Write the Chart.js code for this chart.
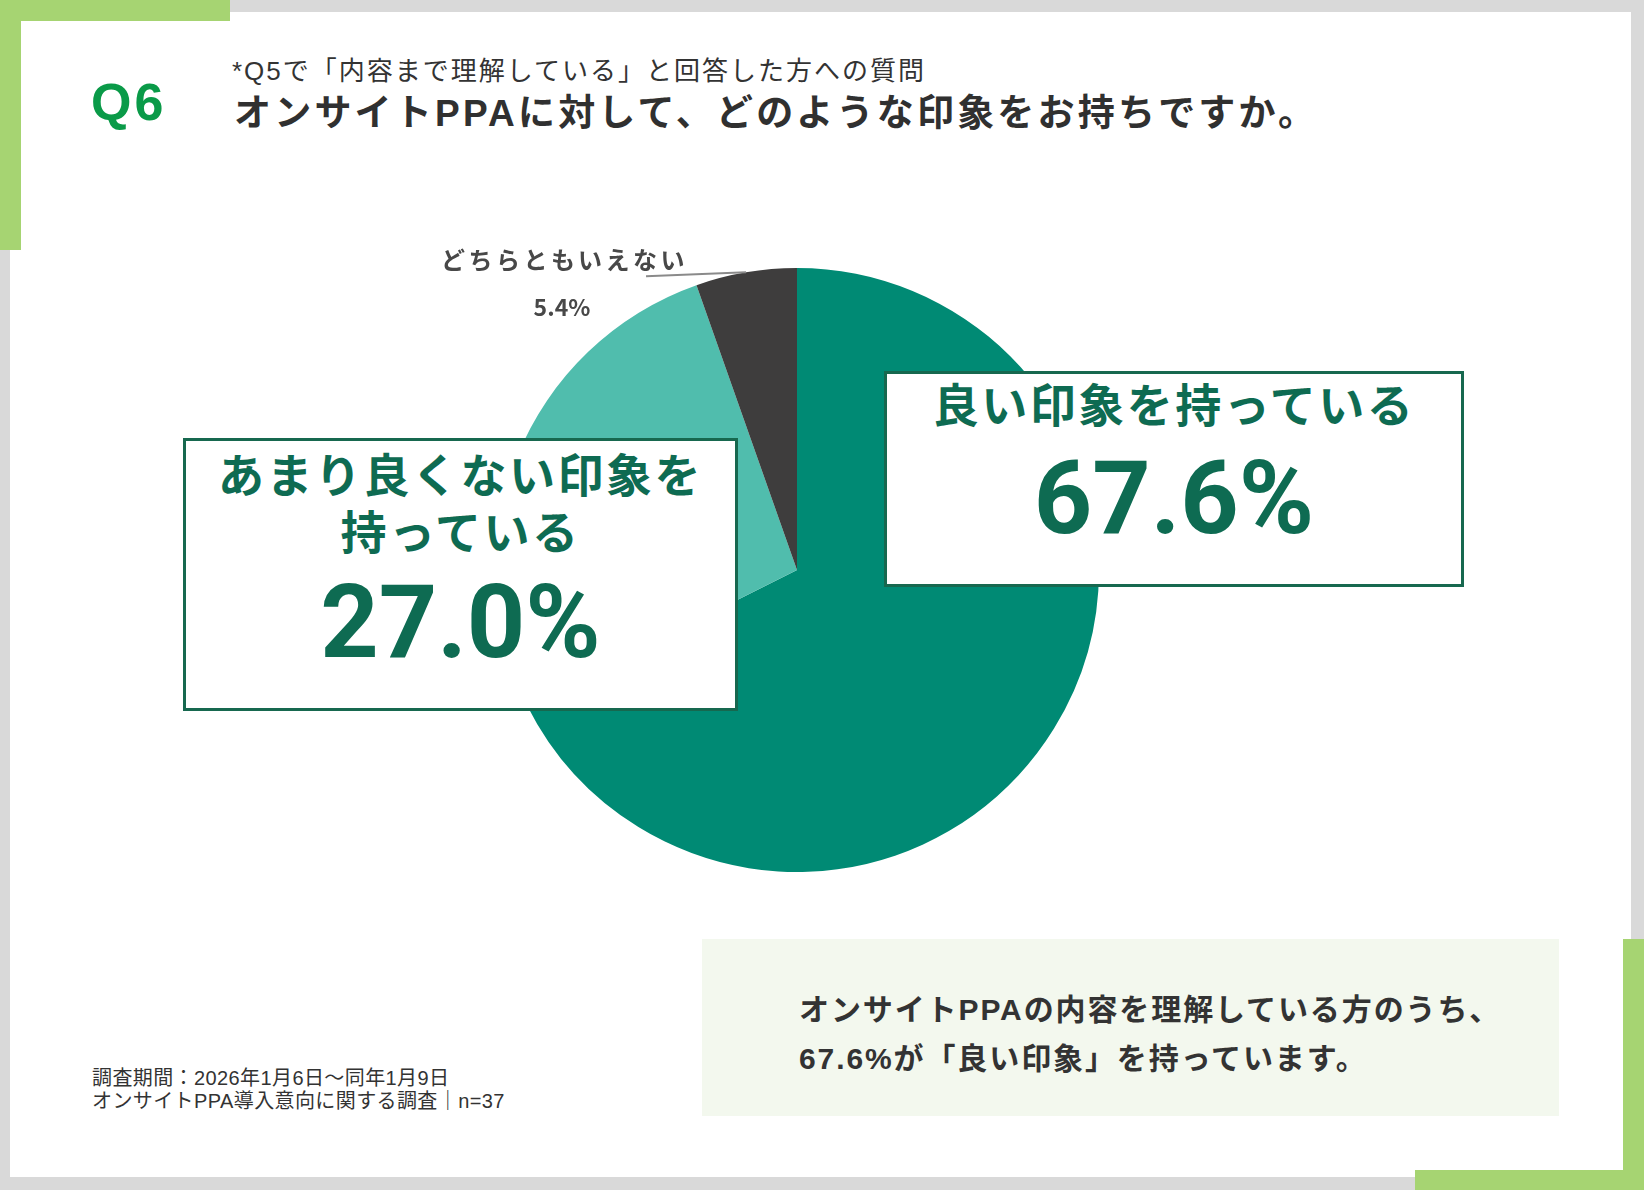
<!DOCTYPE html>
<html lang="ja">
<head>
<meta charset="utf-8">
<title>Q6 オンサイトPPAの印象</title>
<script src="https://cdn.jsdelivr.net/npm/chart.js@4"></script>
<style>
  html, body { margin: 0; padding: 0; }
  body {
    width: 1644px; height: 1190px; position: relative; overflow: hidden;
    background: #d9d9d9;
    font-family: "Liberation Sans", "Noto Sans CJK JP", sans-serif;
    color: #333;
  }
  .abs { position: absolute; white-space: nowrap; }
  #card { left: 10px; top: 12px; width: 1621px; height: 1165px; background: #fff; }
  .green { position: absolute; background: #a6d472; }
  #q6 { left: 91px; top: 76px; font: bold 52px/52px "Liberation Sans", sans-serif; letter-spacing: 3px; color: #0a9a48; }
  #sub { left: 232px; top: 56px; font-size: 26px; line-height: 30px; letter-spacing: 2px; color: #333; }
  #title { left: 234px; top: 94px; font-size: 37px; line-height: 40px; font-weight: bold; letter-spacing: 3.2px; color: #303030; }
  #pie { position: absolute; left: 495px; top: 268px; width: 604px; height: 604px; }
  .box {
    position: absolute; box-sizing: border-box; background: #fff;
    border: 3px solid #17684f; z-index: 2;
    font-weight: bold; color: #0e6b52;
  }
  .box div { position: absolute; left: 0; right: 0; text-align: center; white-space: nowrap; }
  .lab { font-family: "Liberation Sans", "Noto Sans CJK JP", sans-serif; font-size: 46px; line-height: 60px; letter-spacing: 2.5px; }
  .num { font-family: Roboto, sans-serif; font-size: 102px; line-height: 100px; letter-spacing: 0; }
  #other { left: 441px; top: 244px; font: bold 24px/30px "Noto Sans CJK JP", sans-serif; letter-spacing: 3.5px; color: #484848; }
  #otherv { left: 512px; width: 100px; text-align: center; top: 293px; font: bold 23px/26px "Noto Sans CJK JP", sans-serif; color: #484848; }
  #note { left: 702px; top: 939px; width: 857px; height: 177px; background: #f3f8ee; }
  #notetxt { left: 799px; top: 985px; font-size: 30px; line-height: 49px; font-weight: bold; letter-spacing: 1.9px; color: #333; }
  #foot { left: 92px; top: 1067px; font-size: 20px; line-height: 23px; letter-spacing: 0.4px; color: #333; }
</style>
</head>
<body>
<div id="card" class="abs"></div>
<div class="green" style="left:0;top:0;width:230px;height:21px"></div>
<div class="green" style="left:0;top:0;width:21px;height:250px"></div>
<div class="green" style="left:1623px;top:939px;width:21px;height:251px"></div>
<div class="green" style="left:1415px;top:1170px;width:229px;height:20px"></div>

<div id="q6" class="abs">Q6</div>
<div id="sub" class="abs">*Q5で「内容まで理解している」と回答した方への質問</div>
<div id="title" class="abs">オンサイトPPAに対して、どのような印象をお持ちですか。</div>

<canvas id="pie" width="604" height="604"></canvas>

<div id="boxGood" class="box" style="left:884px;top:371px;width:580px;height:216px">
  <div class="lab" style="top:2px"></div>
  <div class="num" style="top:74px"></div>
</div>
<div id="boxBad" class="box" style="left:183px;top:438px;width:555px;height:273px">
  <div class="lab" style="top:5px"></div>
  <div class="lab" style="top:62px"></div>
  <div class="num" style="top:131px"></div>
</div>
<div id="other" class="abs"></div>
<div id="otherv" class="abs"></div>

<div id="note" class="abs"></div>
<div id="notetxt" class="abs">オンサイトPPAの内容を理解している方のうち、<br>67.6%が「良い印象」を持っています。</div>
<div id="foot" class="abs">調査期間：2026年1月6日～同年1月9日<br>オンサイトPPA導入意向に関する調査｜n=37</div>

<script>
// データ（12時の位置から時計回り）
const categories = ['良い印象を持っている', 'あまり良くない印象を持っている', 'どちらともいえない'];
const values = [67.6, 27.0, 5.4];
const colors = ['#008a74', '#50bdad', '#3e3d3d'];

function pct(v) { return v.toFixed(1) + '%'; }

// ラベルボックス
const good = document.querySelectorAll('#boxGood div');
good[0].textContent = categories[0];
good[1].textContent = pct(values[0]);

const bad = document.querySelectorAll('#boxBad div');
bad[0].textContent = categories[1].slice(0, 10);
bad[1].textContent = categories[1].slice(10);
bad[2].textContent = pct(values[1]);

document.getElementById('other').textContent = categories[2];
document.getElementById('otherv').textContent = pct(values[2]);

// 「どちらともいえない」への引き出し線
const leader = {
  id: 'leader',
  afterDraw(chart) {
    const arc = chart.getDatasetMeta(0).data[2];
    const p = arc.getProps(['x', 'y', 'startAngle', 'endAngle', 'outerRadius'], true);
    const mid = (p.startAngle + p.endAngle) / 2;
    const ex = p.x + Math.cos(mid) * p.outerRadius;
    const ey = p.y + Math.sin(mid) * p.outerRadius;
    const c = chart.ctx;
    c.save();
    c.strokeStyle = '#8a8a8a';
    c.lineWidth = 2;
    c.beginPath();
    c.moveTo(ex, ey);
    c.lineTo(ex - 100, ey + 4);
    c.stroke();
    c.restore();
  }
};

new Chart(document.getElementById('pie'), {
  type: 'pie',
  data: {
    labels: categories,
    datasets: [{
      data: values,
      backgroundColor: colors,
      borderWidth: 0
    }]
  },
  options: {
    responsive: false,
    animation: false,
    layout: { padding: 0 },
    plugins: {
      legend: { display: false },
      tooltip: { enabled: false }
    }
  },
  plugins: [leader]
});
</script>
</body>
</html>
